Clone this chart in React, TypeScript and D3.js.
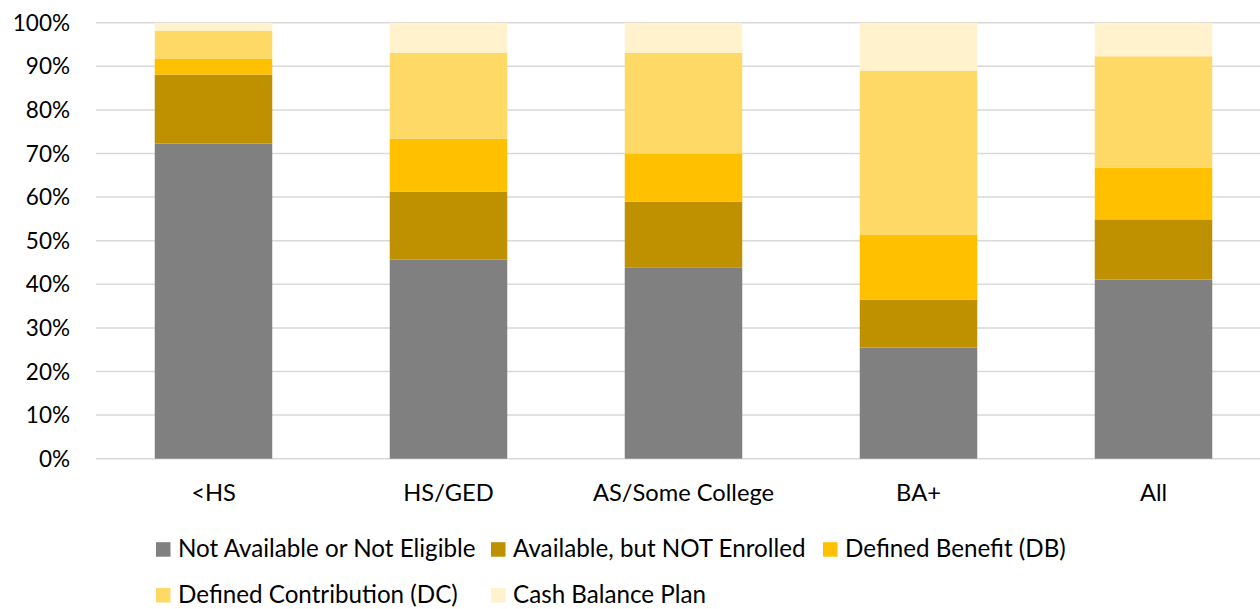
import React from "react";
import * as d3 from "d3";

const categories = ["<HS", "HS/GED", "AS/Some College", "BA+", "All"];
const seriesNames = [
  "Not Available or Not Eligible",
  "Available, but NOT Enrolled",
  "Defined Benefit (DB)",
  "Defined Contribution (DC)",
  "Cash Balance Plan",
];
const seriesColors = ["#808080", "#BF9000", "#FFC000", "#FFD966", "#FFF2CC"];

// shares in percent, one array per series, ordered like categories
const notAvailable = [72.3, 45.7, 43.9, 25.5, 41.1];
const availableNotEnrolled = [15.8, 15.5, 15.0, 11.0, 13.8];
const definedBenefit = [3.6, 12.2, 11.1, 14.8, 11.8];
const definedContribution = [6.5, 19.7, 23.1, 37.7, 25.6];
const cashBalance = [1.8, 6.9, 6.9, 11.0, 7.7];

const yTicks = [0, 10, 20, 30, 40, 50, 60, 70, 80, 90, 100];

const W = 1260;
const H = 609;
const FONT = "Lato, 'Open Sans', sans-serif";

export default function App() {
  const seriesValues = [
    notAvailable,
    availableNotEnrolled,
    definedBenefit,
    definedContribution,
    cashBalance,
  ];
  const rows = categories.map((c, i) => {
    const r: Record<string, number | string> = { cat: c };
    seriesNames.forEach((s, k) => (r[s] = seriesValues[k][i]));
    return r;
  });
  const stacked = d3.stack<any>().keys(seriesNames)(rows);

  const x = d3
    .scaleBand<string>()
    .domain(categories)
    .range([96, 1271])
    .paddingInner(0.5)
    .paddingOuter(0.25);
  const y = d3.scaleLinear().domain([0, 100]).range([458.7, 22.7]);

  // legend laid out in two rows, left to right
  const legendRows = [
    [
      { i: 0, x: 156 },
      { i: 1, x: 491 },
      { i: 2, x: 823 },
    ],
    [
      { i: 3, x: 156 },
      { i: 4, x: 491 },
    ],
  ];
  const legendBase = [556.7, 602.5];

  return (
    <svg
      width={W}
      height={H}
      style={{ position: "absolute", left: 0, top: 0, background: "#fff" }}
      fontFamily={FONT}
    >
      <g>
        {yTicks.map((t) => (
          <line
            key={t}
            x1={96}
            x2={1271}
            y1={y(t)}
            y2={y(t)}
            stroke="#D9D9D9"
            strokeWidth={1.5}
          />
        ))}
      </g>
      <g>
        {stacked.map((layer, k) => (
          <g key={layer.key} fill={seriesColors[k]}>
            {layer.map((d, i) => (
              <rect
                key={i}
                x={x(categories[i])}
                width={x.bandwidth()}
                y={y(d[1])}
                height={y(d[0]) - y(d[1])}
              />
            ))}
          </g>
        ))}
      </g>
      <g fontSize={22.5} fill="#000">
        {yTicks.map((t) => (
          <text key={t} x={70} y={y(t)} dy="0.36em" textAnchor="end">
            {t}%
          </text>
        ))}
      </g>
      <g fontSize={23.7} fill="#000">
        {categories.map((c) => (
          <text
            key={c}
            x={(x(c) as number) + x.bandwidth() / 2}
            y={500.5}
            textAnchor="middle"
          >
            {c}
          </text>
        ))}
      </g>
      <g fontSize={24.2} fill="#000">
        {legendRows.map((row, r) =>
          row.map(({ i, x: lx }) => (
            <g key={i}>
              <rect
                x={lx}
                y={legendBase[r] - 14.5}
                width={14.5}
                height={14.5}
                fill={seriesColors[i]}
              />
              <text x={lx + 22} y={legendBase[r]}>
                {seriesNames[i]}
              </text>
            </g>
          ))
        )}
      </g>
    </svg>
  );
}
